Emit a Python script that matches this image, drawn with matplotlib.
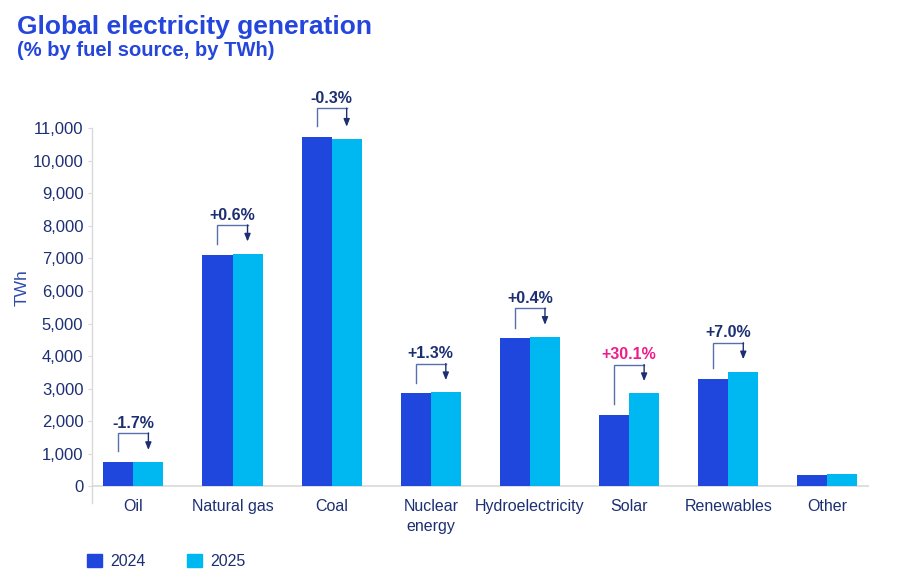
import matplotlib
import matplotlib.pyplot as plt
import numpy as np
from matplotlib.patches import Patch

matplotlib.use("Agg")

plt.rcParams["font.family"] = ["Liberation Sans", "DejaVu Sans"]

# data (TWh)
categories = ["Oil", "Natural gas", "Coal", "Nuclear\nenergy",
              "Hydroelectricity", "Solar", "Renewables", "Other"]
gen2024 = [745, 7110, 10730, 2850, 4540, 2190, 3290, 340]
gen2025 = [732, 7140, 10670, 2880, 4580, 2850, 3520, 365]
changeLabels = ["-1.7%", "+0.6%", "-0.3%", "+1.3%", "+0.4%", "+30.1%", "+7.0%", None]
highlight = [False, False, False, False, False, True, False, False]
yTicks = list(range(0, 11001, 1000))

# styles
COL_2024 = "#1f47de"
COL_2025 = "#00b8f1"
NAVY = "#1d2f73"
TITLE_BLUE = "#2446dc"
PINK = "#ec1e8c"
BRACKET = "#5670ad"
AXIS_GREY = "#d9d9d9"

fig = plt.figure(figsize=(9, 5.85), dpi=100)
ax = fig.add_axes([0.1019, 0.140, 0.8637, 0.6417])

x = np.arange(len(categories))
w = 0.303
ax.bar(x - w / 2, gen2024, width=w, color=COL_2024, edgecolor="none", zorder=2)
ax.bar(x + w / 2, gen2025, width=w, color=COL_2025, edgecolor="none", zorder=2)

# 变化标注(括号+箭头)
for i, lab in enumerate(changeLabels):
    if lab is None:
        continue
    v1, v2 = gen2024[i], gen2025[i]
    top = max(v1, v2) + 890
    xl, xr = x[i] - w / 2, x[i] + w / 2
    ax.plot([xl, xl, xr], [v1 + 330, top, top], color=BRACKET, lw=1.0,
            clip_on=False, zorder=3, solid_joinstyle="miter")
    ax.annotate("", xy=(xr, v2 + 380), xytext=(xr, top),
                arrowprops=dict(arrowstyle="-|>,head_length=0.45,head_width=0.18",
                                color=BRACKET, lw=1.0, shrinkA=0, shrinkB=0,
                                fc=NAVY, ec=NAVY),
                annotation_clip=False, zorder=3)
    ax.text(x[i], top + 70, lab, ha="center", va="bottom", fontsize=11.5,
            fontweight="bold", color=PINK if highlight[i] else NAVY,
            clip_on=False)

ax.set_xlim(-0.42, 7.42)
ax.set_ylim(-520, 11020)
ax.set_yticks(yTicks)
ax.set_yticklabels([f"{t:,}" for t in yTicks])
ax.set_xticks(x)
ax.set_xticklabels(categories)
ax.tick_params(axis="y", length=3, width=0.8, color=AXIS_GREY, pad=3,
               labelsize=12, labelcolor=NAVY)
ax.tick_params(axis="x", length=0, pad=-3, labelsize=11.5, labelcolor=NAVY)
for lbl in ax.get_xticklabels():
    lbl.set_verticalalignment("top")
    lbl.set_linespacing(1.45)

for side in ["top", "right", "bottom"]:
    ax.spines[side].set_visible(False)
ax.spines["left"].set_color(AXIS_GREY)
ax.spines["left"].set_linewidth(1.0)
ax.axhline(0, color=AXIS_GREY, lw=1.2, zorder=1)

fig.text(22 / 900, 1 - 288 / 585, "TWh", rotation=90, ha="center", va="center",
         fontsize=12.5, color="#2f4cae")

fig.text(17 / 900, 1 - 27 / 585, "Global electricity generation", ha="left",
         va="center", fontsize=19, fontweight="bold", color=TITLE_BLUE)
fig.text(17 / 900, 1 - 50 / 585, "(% by fuel source, by TWh)", ha="left",
         va="center", fontsize=14.5, fontweight="bold", color=TITLE_BLUE)

handles = [Patch(color=COL_2024, label="2024"), Patch(color=COL_2025, label="2025")]
fig.legend(handles=handles, loc="lower left", bbox_to_anchor=(87 / 900, 1 - 569 / 585),
           ncol=2, frameon=False, fontsize=11.5, handlelength=0.95, handleheight=0.9,
           handletextpad=0.5, columnspacing=2.6, borderpad=0, borderaxespad=0,
           labelcolor=NAVY)

fig.savefig("out.png", dpi=100)
